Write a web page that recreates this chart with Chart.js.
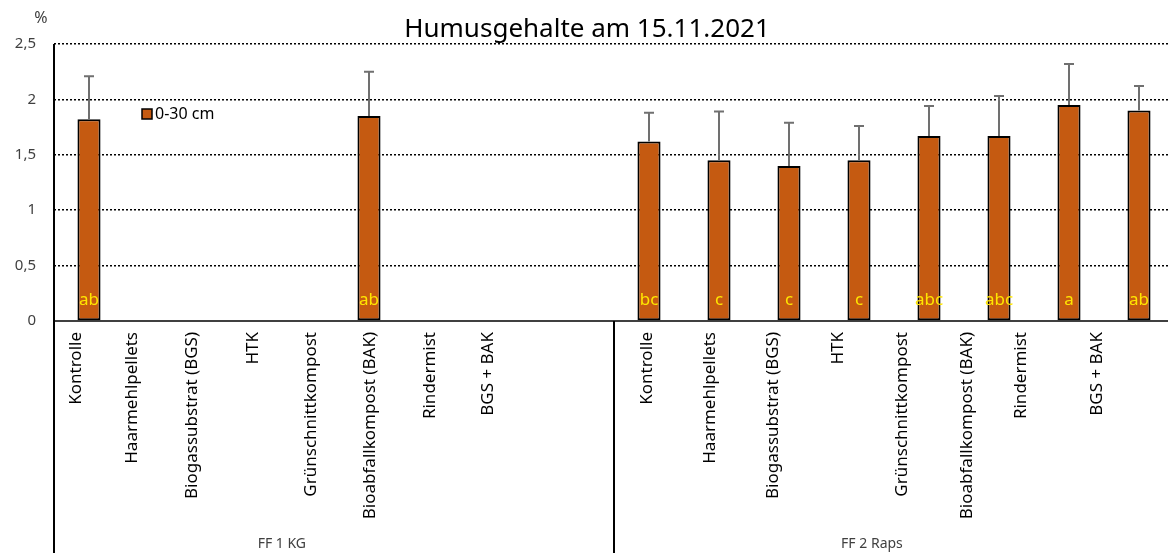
<!DOCTYPE html>
<html>
<head>
<meta charset="utf-8">
<script src="https://cdn.jsdelivr.net/npm/chart.js@4.4.0/dist/chart.umd.min.js"></script>
<style>
html, body { margin: 0; padding: 0; overflow: hidden; background: #fff; }
#wrap { width: 1174px; height: 553px; }
</style>
</head>
<body>
<div id="wrap"><canvas id="humusChart"></canvas></div>
<script>
// Varianten je Feld
var treatments = ['Kontrolle', 'Haarmehlpellets', 'Biogassubstrat (BGS)', 'HTK', 'Grünschnittkompost', 'Bioabfallkompost (BAK)', 'Rindermist', 'BGS + BAK'];
var groups = ['FF 1 KG', 'FF 2 Raps'];
var seriesLabel = '0-30 cm';
// Humusgehalt in %, Mittelwert und Standardabweichung (nur nach oben)
var humus = [1.82, null, null, null, 1.85, null, null, null, 1.62, 1.45, 1.40, 1.45, 1.67, 1.67, 1.95, 1.90];
var sdUp = [0.39, null, null, null, 0.40, null, null, null, 0.26, 0.44, 0.39, 0.31, 0.27, 0.36, 0.37, 0.22];
var letters = ['ab', '', '', '', 'ab', '', '', '', 'bc', 'c', 'c', 'c', 'abc', 'abc', 'a', 'ab'];
var yTicks = [0, 0.5, 1, 1.5, 2, 2.5];
// wo die Beschriftungen im Original sitzen (in Kategorie-Einheiten)
var labelPos = [0.31, 1.12, 1.98, 2.84, 3.68, 4.52, 5.37, 6.20, 8.47, 9.37, 10.27, 11.20, 12.11, 13.04, 13.82, 14.90];

var labels = [];
var tickNames = [];
for (var g = 0; g < groups.length; g++) {
    for (var t = 0; t < treatments.length; t++) {
        labels.push(groups[g] + ' ' + treatments[t]);
        tickNames.push(treatments[t]);
    }
}

var FONT = '"Noto Sans", sans-serif';
var barColor = '#C55A11';

var extrasPlugin = {
    id: 'extras',
    afterDatasetsDraw: function(chart) {
        var ctx = chart.ctx;
        var x = chart.scales.x, y = chart.scales.y, xl = chart.scales.xl;
        var meta = chart.getDatasetMeta(0);
        var area = chart.chartArea;
        ctx.save();
        // Fehlerbalken
        ctx.strokeStyle = '#707070';
        ctx.lineWidth = 2;
        for (var i = 0; i < humus.length; i++) {
            if (humus[i] == null || sdUp[i] == null) continue;
            var bar = meta.data[i];
            var top = y.getPixelForValue(humus[i] + sdUp[i]);
            ctx.beginPath();
            ctx.moveTo(bar.x, bar.y);
            ctx.lineTo(bar.x, top);
            ctx.moveTo(bar.x - 5, top);
            ctx.lineTo(bar.x + 5, top);
            ctx.stroke();
        }
        // Buchstaben
        ctx.fillStyle = '#FFE600';
        ctx.font = '17px ' + FONT;
        ctx.textAlign = 'center';
        ctx.textBaseline = 'middle';
        var zero = y.getPixelForValue(0);
        for (var j = 0; j < letters.length; j++) {
            if (!letters[j]) continue;
            ctx.fillText(letters[j], meta.data[j].x, zero - 21);
        }
        // Achse links + Trennlinie der Gruppen
        ctx.strokeStyle = '#000';
        ctx.lineWidth = 2;
        var sep = (x.getPixelForValue(7) + x.getPixelForValue(8)) / 2;
        ctx.beginPath();
        ctx.moveTo(area.left, area.top);
        ctx.lineTo(area.left, chart.height);
        ctx.moveTo(sep, area.bottom);
        ctx.lineTo(sep, chart.height);
        ctx.stroke();
        // Gruppennamen
        ctx.fillStyle = '#404040';
        ctx.font = '14px ' + FONT;
        for (var k = 0; k < groups.length; k++) {
            var a = labelPos[k * treatments.length];
            var b = labelPos[k * treatments.length + treatments.length - 1];
            ctx.fillText(groups[k], xl.getPixelForValue((a + b) / 2), chart.height - 9);
        }
        // Einheit
        ctx.fillStyle = '#404040';
        ctx.font = '16px ' + FONT;
        ctx.fillText('%', 41, 18);
        // Legende
        var lx = area.left + 88, ly = 114;
        ctx.fillStyle = barColor;
        ctx.fillRect(lx, ly - 5, 10, 10);
        ctx.strokeStyle = '#000';
        ctx.lineWidth = 1.5;
        ctx.strokeRect(lx, ly - 5, 10, 10);
        ctx.fillStyle = '#000';
        ctx.textAlign = 'left';
        ctx.font = '16px ' + FONT;
        ctx.fillText(seriesLabel, lx + 13, ly);
        ctx.restore();
    }
};

new Chart(document.getElementById('humusChart').getContext('2d'), {
    type: 'bar',
    data: {
        labels: labels,
        datasets: [{
            label: seriesLabel,
            data: humus,
            backgroundColor: barColor,
            borderColor: '#000',
            borderWidth: 2,
            borderSkipped: false,
            barPercentage: 0.33,
            categoryPercentage: 1
        }]
    },
    options: {
        responsive: true,
        maintainAspectRatio: false,
        animation: false,
        layout: { padding: 0 },
        plugins: {
            legend: { display: false },
            tooltip: { enabled: false },
            title: {
                display: true,
                text: 'Humusgehalte am 15.11.2021',
                color: '#000',
                font: { family: FONT, size: 26, weight: 'normal', lineHeight: 1 },
                padding: { top: 17, bottom: 1 }
            }
        },
        scales: {
            x: {
                type: 'category',
                position: 'bottom',
                grid: { display: false },
                border: { display: true, color: '#404040', width: 2 },
                ticks: { display: false },
                afterFit: function(s) { s.height = 0; }
            },
            xl: {
                type: 'linear',
                position: 'bottom',
                offset: false,
                min: 0,
                max: 16,
                grid: { display: false, drawTicks: false },
                border: { display: false },
                afterBuildTicks: function(s) {
                    s.ticks = labelPos.map(function(v) { return { value: v }; });
                },
                ticks: {
                    autoSkip: false,
                    maxRotation: 90,
                    minRotation: 90,
                    padding: 11,
                    color: '#000',
                    font: { family: FONT, size: 17 },
                    callback: function(v, i) { return tickNames[i]; }
                },
                afterFit: function(s) { s.height = 232; }
            },
            y: {
                min: 0,
                max: 2.5,
                afterBuildTicks: function(s) {
                    s.ticks = yTicks.map(function(v) { return { value: v }; });
                },
                grid: {
                    drawTicks: false,
                    lineWidth: 1.5,
                    color: function(c) { return c.tick && c.tick.value === 0 ? 'rgba(0,0,0,0)' : '#000'; }
                },
                border: { display: false, dash: [2, 2] },
                ticks: {
                    padding: 18,
                    color: '#404040',
                    font: { family: FONT, size: 15 },
                    callback: function(v) { return String(v).replace('.', ','); }
                },
                afterFit: function(s) { s.width = 54; }
            }
        }
    },
    plugins: [extrasPlugin]
});
</script>
</body>
</html>
